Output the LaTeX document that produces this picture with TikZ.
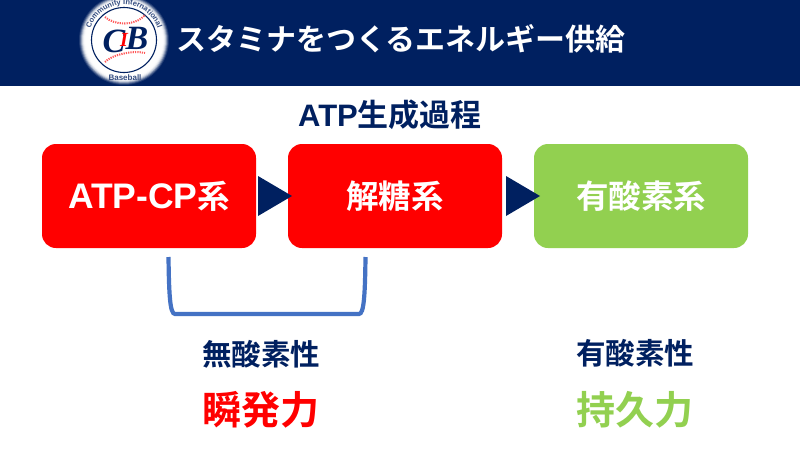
\documentclass[tikz,border=0pt]{standalone}
\usepackage{fontspec}
\setmainfont{Liberation Sans}
\newfontfamily\cjk{Noto Sans CJK JP Bold}
\newfontfamily\latbold{Liberation Sans Bold}
\newfontfamily\logofont{Liberation Serif}
\usetikzlibrary{decorations.text}
\definecolor{navy}{HTML}{002060}
\definecolor{cbred}{HTML}{FF0000}
\definecolor{cbgreen}{HTML}{92D050}
\definecolor{brk}{HTML}{4472C4}
\newcommand{\lat}[2]{{\latbold\fontsize{#1}{#1}\selectfont #2}}
\tikzset{
  sysbox/.style={draw=none,rounded corners=14pt,minimum width=214pt,minimum height=104pt,text=white,font=\cjk\fontsize{32.5}{32.5}\selectfont,inner sep=0pt},
  lbl/.style={text=navy,font=\cjk\fontsize{29.5}{29.5}\selectfont,inner sep=0pt},
  big/.style={font=\cjk\fontsize{39}{39}\selectfont,inner sep=0pt},
  tri/.style={fill=navy,draw=none},
  seam/.style={cbred!65,line width=2pt,dash pattern=on 1.2pt off 1.1pt},
  logoletter/.style={inner sep=0pt,font=\logofont\bfseries\itshape\fontsize{34}{34}\selectfont}
}
\begin{document}
\begin{tikzpicture}[x=1pt,y=-1pt]
\useasboundingbox (0,0) rectangle (800,450);
\fill[white] (0,0) rectangle (800,450);
\fill[navy] (0,0) rectangle (800,86);
% logo
\begin{scope}
\clip (0,0) rectangle (800,86);
\foreach \r/\o in {45/12,44/24,43/36,42/50,41/62,40/72,39/80,38/86,37/90,36/92}{\fill[white,opacity=0.\o] (124,40) circle (\r pt);}
\fill[white] (124,40) circle (32pt);
\draw[navy,line width=1.1pt] (124,40) circle (32.5pt);
\path[decorate,decoration={text along path,text align=center,text={|\bfseries\fontsize{7.5}{7.5}\selectfont\color{navy!80}|Community International}}]
  (124,40) ++(-35.5,0) arc[start angle=180,end angle=0,radius=35.5pt];
\node[font=\bfseries\fontsize{8}{8}\selectfont,text=navy!80,inner sep=0pt] (basetxt) at (125,78) {Baseball};
\end{scope}
\draw[seam] (105,17) .. controls (114,25) and (134,27) .. (145,15);
\draw[seam] (105,62) .. controls (111,55) and (133,50) .. (145,53);
\node[logoletter,text=navy] (logoC) at (114,41) {C};
\node[logoletter,text=navy] (logoB) at (137,38) {B};
\node[inner sep=0pt,text=cbred,font=\logofont\bfseries\itshape\fontsize{20}{20}\selectfont] (logoI) at (124,40) {I};
% title
\node[anchor=west,text=white,font=\cjk\fontsize{30}{30}\selectfont,inner sep=0pt] (title) at (176,39) {スタミナをつくるエネルギー供給};
\node[lbl,anchor=west] (head) at (298,115) {\lat{31}{ATP}\fontsize{31}{31}\selectfont 生成過程};
% boxes
\node[sysbox,fill=cbred] (atp) at (149,196) {\lat{35.5}{ATP-CP}系};
\node[sysbox,fill=cbred] (gly) at (395,196) {解糖系};
\node[sysbox,fill=cbgreen] (oxy) at (641,196) {有酸素系};
% arrows
\fill[tri] (258,176) -- (292,196) -- (258,216) -- cycle;
\fill[tri] (506,176) -- (540,196) -- (506,216) -- cycle;
% bracket
\coordinate (bl) at (168.5,257);
\coordinate (br) at (365.5,257);
\draw[brk,line width=4.2pt] (bl) .. controls (169,295) and (170,314) .. (175,314) -- (359,314) .. controls (364,314) and (365,295) .. (br);
% labels
\node[lbl] (anaer) at (261,354) {無酸素性};
\node[lbl] (aer) at (635,353) {有酸素性};
\node[big,text=cbred] (power) at (261,410) {瞬発力};
\node[big,text=cbgreen] (endur) at (635,410) {持久力};
\end{tikzpicture}
\end{document}
